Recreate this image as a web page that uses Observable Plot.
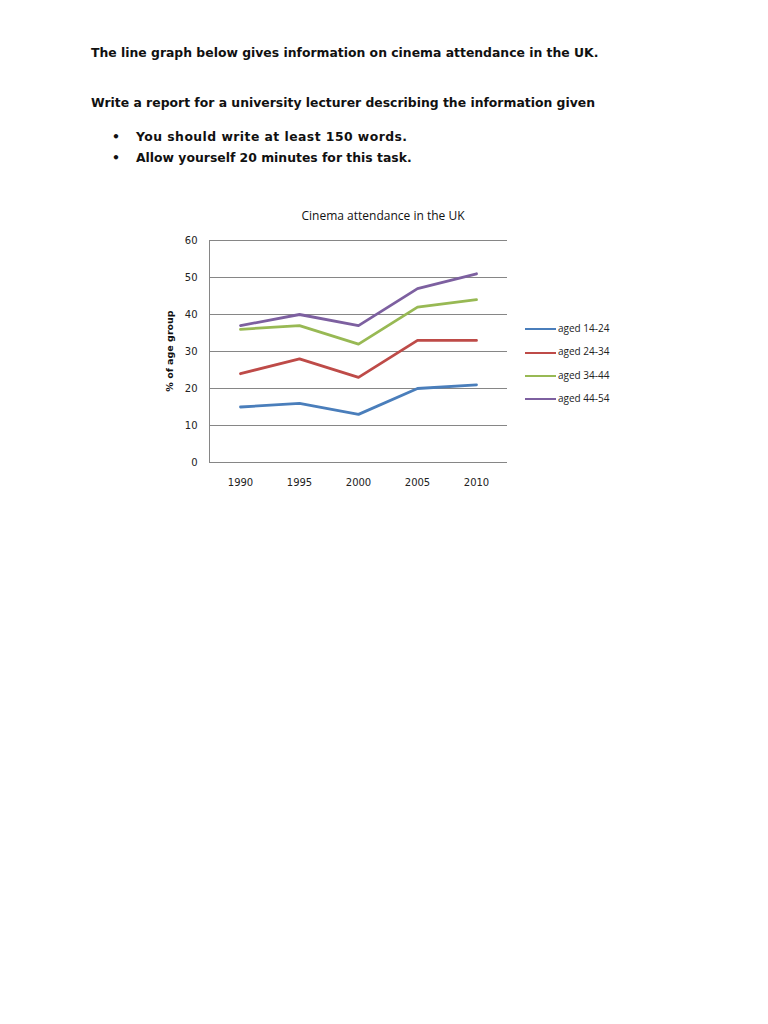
<!DOCTYPE html>
<html><head><meta charset="utf-8">
<script src="https://cdn.jsdelivr.net/npm/d3@7"></script>
<script src="https://cdn.jsdelivr.net/npm/@observablehq/plot@0.6"></script>
<style>
html,body{margin:0;padding:0;background:#fff;width:768px;height:1024px;overflow:hidden}
body{position:relative;font-family:"DejaVu Sans",sans-serif;color:#111}
.t{position:absolute;font-weight:bold;font-size:12.4px;white-space:nowrap;line-height:15px}
#chart{position:absolute;left:0;top:200px}
#title{position:absolute;top:207px;left:0;width:768px;text-align:center;font-family:"Open Sans",sans-serif;font-size:12px;color:#111}
#legend{position:absolute;left:525px;top:321px;font-family:"Open Sans",sans-serif;font-size:10px;color:#222}
.li{position:absolute;left:0;white-space:nowrap;height:14px;line-height:14px}
.sw{display:inline-block;width:31px;height:2px;vertical-align:middle;margin-right:2px}
</style></head>
<body>
<div class="t" style="left:91px;top:45px">The line graph below gives information on cinema attendance in the UK.</div>
<div class="t" style="left:91px;top:95px">Write a report for a university lecturer describing the information given</div>
<div class="t" style="left:112px;top:129px">•</div>
<div class="t" style="left:136px;top:129px;letter-spacing:0.45px">You should write at least 150 words.</div>
<div class="t" style="left:112px;top:150px">•</div>
<div class="t" style="left:136px;top:150px">Allow yourself 20 minutes for this task.</div>
<div id="title"><span style="position:relative;left:-1px">Cinema attendance in the UK</span></div>
<div id="chart"></div>
<div id="legend"></div>
<script>
const years = ["1990","1995","2000","2005","2010"];
const seriesNames = ["aged 14-24","aged 24-34","aged 34-44","aged 44-54"];
const aged1424 = [15,16,13,20,21];
const aged2434 = [24,28,23,33,33];
const aged3444 = [36,37,32,42,44];
const aged4454 = [37,40,37,47,51];
const colors = ["#4a7ebb","#be4b48","#98b954","#7d60a0"];
const yTicks = [0,10,20,30,40,50,60];

const allSeries = [aged1424, aged2434, aged3444, aged4454];
const rows = [];
allSeries.forEach((vals, si) => vals.forEach((v, i) => rows.push({year: years[i], value: v, series: seriesNames[si]})));

const plot = Plot.plot({
  width: 768, height: 300,
  marginLeft: 209, marginRight: 261, marginTop: 40, marginBottom: 38,
  style: {fontFamily: "DejaVu Sans, sans-serif", fontSize: "10px", color: "#222", background: "transparent"},
  x: {type: "point", domain: years, padding: 0.5, label: null},
  y: {domain: [0, 60], ticks: yTicks, label: null},
  color: {domain: seriesNames, range: colors},
  marks: [
    Plot.ruleY(yTicks, {stroke: "#868686", strokeWidth: 1}),
    Plot.axisX({tickSize: 0, tickPadding: 16, fontSize: 10}),
    Plot.axisY({ticks: yTicks, tickSize: 0, tickPadding: 12, fontSize: 10}),
    Plot.line(rows, {x: "year", y: "value", z: "series", stroke: "series", strokeWidth: 2.8, strokeLinejoin: "round", strokeLinecap: "round"}),
    Plot.frame({anchor: "left", stroke: "#868686"})
  ]
});
document.getElementById("chart").appendChild(plot);

// y-axis label
const svg = d3.select(plot);
svg.append("text")
  .attr("transform", "translate(173,151) rotate(-90)")
  .attr("text-anchor", "middle")
  .attr("font-family", "DejaVu Sans, sans-serif")
  .attr("font-weight", "bold")
  .attr("font-size", "9.5px")
  .attr("fill", "#111")
  .text("% of age group");

const legend = document.getElementById("legend");
seriesNames.forEach((name, i) => {
  const d = document.createElement("div");
  d.className = "li";
  d.style.top = (i * 23.3) + "px";
  d.innerHTML = `<span class="sw" style="background:${colors[i]}"></span>${name}`;
  legend.appendChild(d);
});
</script>
</body></html>
